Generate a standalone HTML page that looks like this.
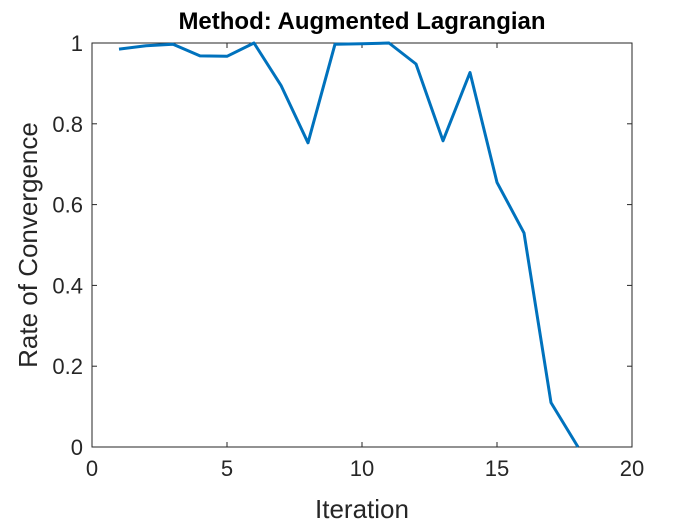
<!DOCTYPE html>
<html><head><meta charset="utf-8"><style>
body{margin:0;background:#fff;}
svg text{font-family:"Liberation Sans",Arial,sans-serif;fill:#262626;}
</style></head><body>
<svg width="700" height="525" xmlns="http://www.w3.org/2000/svg">
<rect width="700" height="525" fill="#fff"/>
<g id="plot"></g>
</svg>
<script>
const xValues=[1,2,3,4,5,6,7,8,9,10,11,12,13,14,15,16,17,18];
const yValues=[0.985,0.993,0.997,0.968,0.967,1.0,0.895,0.753,0.997,0.998,1.0,0.948,0.758,0.927,0.655,0.53,0.11,0.0];
const xTicks=[0,5,10,15,20];
const yTicks=[0,0.2,0.4,0.6,0.8,1];
const yTickLabels=["0","0.2","0.4","0.6","0.8","1"];
const L=92,R=632,T=43,B=447;
const sx=v=>L+(v-0)/(20-0)*(R-L);
const sy=v=>B-(v-0)/(1-0)*(B-T);
const NS="http://www.w3.org/2000/svg";
const g=document.getElementById('plot');
function mk(tag,attrs,parent){const e=document.createElementNS(NS,tag);for(const k in attrs)e.setAttribute(k,attrs[k]);(parent||g).appendChild(e);return e;}
const box=mk('rect',{x:L,y:T,width:R-L,height:B-T,fill:'#fff',stroke:'#262626','stroke-width':1});


xTicks.forEach(t=>{const x=sx(t);
 mk('line',{x1:x,y1:B,x2:x,y2:B-5,stroke:'#262626'});
 mk('line',{x1:x,y1:T,x2:x,y2:T+5,stroke:'#262626'});
 const tx=mk('text',{x:x,y:B+29,'text-anchor':'middle','font-size':22});tx.textContent=t;
 
 
});
yTicks.forEach((t,i)=>{const y=sy(t);
 mk('line',{x1:L,y1:y,x2:L+5,y2:y,stroke:'#262626'});
 mk('line',{x1:R,y1:y,x2:R-5,y2:y,stroke:'#262626'});
 const tx=mk('text',{x:L-9,y:y+8,'text-anchor':'end','font-size':22});tx.textContent=yTickLabels[i];
 
 
});
const pts=xValues.map((x,i)=>sx(x).toFixed(1)+','+sy(yValues[i]).toFixed(1)).join(' ');
const line=mk('polyline',{points:pts,fill:'none',stroke:'#0072BD','stroke-width':3,'stroke-linejoin':'round'});


const title=mk('text',{x:362,y:29,'text-anchor':'middle','font-size':24,'font-weight':'bold'});
title.textContent='Method: Augmented Lagrangian';


title.style.fill='#000';
const xl=mk('text',{x:362,y:518,'text-anchor':'middle','font-size':26});
xl.textContent='Iteration';


const yl=mk('text',{x:0,y:0,'text-anchor':'middle','font-size':26,transform:'translate(37,245) rotate(-90)'});
yl.textContent='Rate of Convergence';


</script>
</body></html>
